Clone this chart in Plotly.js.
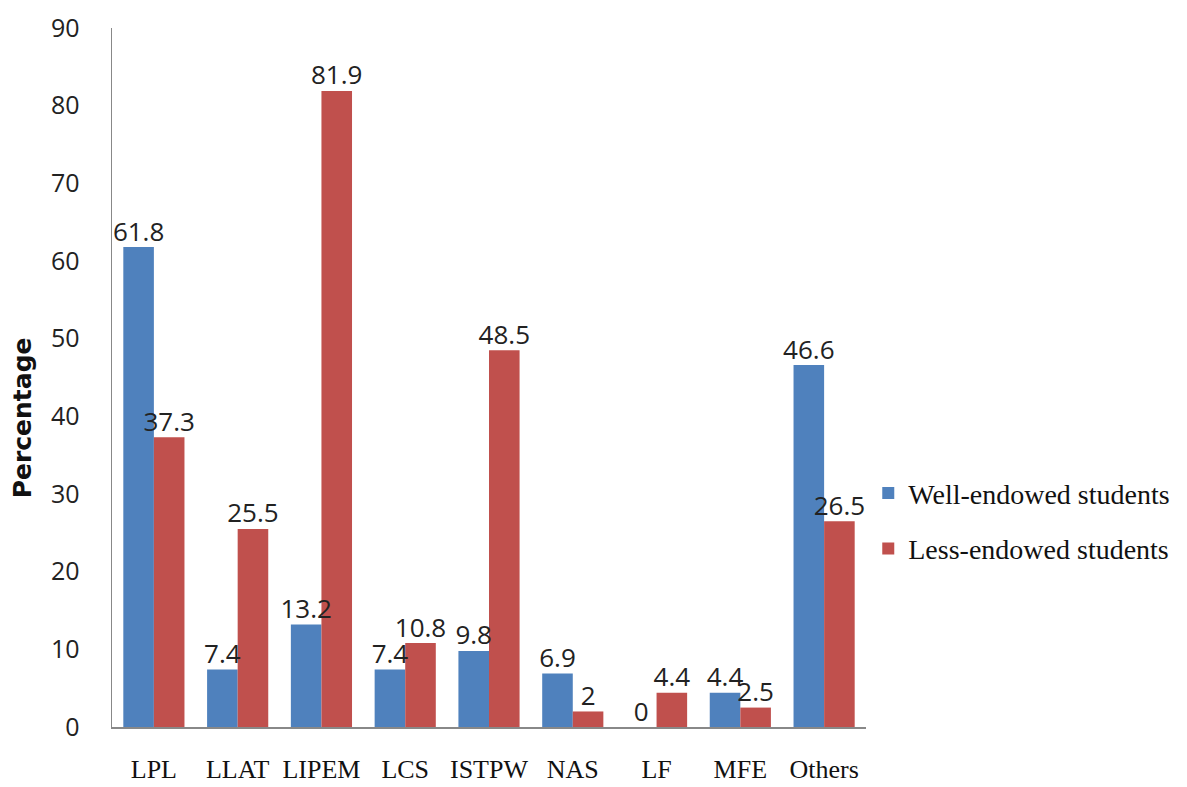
<!DOCTYPE html>
<html>
<head>
<meta charset="utf-8">
<script src="https://cdn.plot.ly/plotly-3.0.1.min.js"></script>
<style>html,body{margin:0;padding:0;background:#fff;}#chart{width:1187px;height:787px;}</style>
</head>
<body>
<div id="chart"></div>
<script>
var categories = ["LPL", "LLAT", "LIPEM", "LCS", "ISTPW", "NAS", "LF", "MFE", "Others"];
var wellEndowed = [61.8, 7.4, 13.2, 7.4, 9.8, 6.9, 0, 4.4, 46.6];
var lessEndowed = [37.3, 25.5, 81.9, 10.8, 48.5, 2, 4.4, 2.5, 26.5];
var seriesNames = ["Well-endowed students", "Less-endowed students"];
var yTicks = [0, 10, 20, 30, 40, 50, 60, 70, 80, 90];

var labelFont = {family: "Open Sans, sans-serif", size: 26, color: "#222"};
var GAP = 0.27;

var traces = [
  {
    type: "bar", name: seriesNames[0], x: categories, y: wellEndowed,
    marker: {color: "#4F81BD"}, offsetgroup: "w", legendgroup: "a"
  },
  {
    type: "bar", name: seriesNames[1], x: categories, y: lessEndowed,
    marker: {color: "#C0504D"}, offsetgroup: "l", legendgroup: "b"
  },
  {
    type: "scatter", mode: "text", x: categories, y: wellEndowed,
    text: wellEndowed.map(String), textposition: "top center", textfont: labelFont,
    offsetgroup: "w", showlegend: false, cliponaxis: false, hoverinfo: "skip"
  },
  {
    type: "scatter", mode: "text", x: categories, y: lessEndowed,
    text: lessEndowed.map(String), textposition: "top center", textfont: labelFont,
    offsetgroup: "l", showlegend: false, cliponaxis: false, hoverinfo: "skip"
  }
];

var layout = {
  width: 1187, height: 787,
  margin: {l: 112, r: 319, t: 28, b: 60},
  paper_bgcolor: "#fff", plot_bgcolor: "#fff",
  barmode: "group", bargap: GAP, bargroupgap: 0,
  scattermode: "group", scattergap: GAP,
  showlegend: true,
  legend: {
    x: 1.003, xanchor: "left", y: 0.37, yanchor: "top",
    font: {family: "Liberation Serif, Times New Roman, serif", size: 28, color: "#111"},
    traceorder: "grouped", tracegroupgap: 16, itemwidth: 30
  },
  xaxis: {
    type: "category",
    showline: true, linecolor: "#888", linewidth: 1.5,
    ticks: "", showgrid: false, zeroline: false,
    tickfont: {family: "Liberation Serif, Times New Roman, serif", size: 26, color: "#111"},
    ticklabelstandoff: 18
  },
  yaxis: {
    range: [0, 90], tickvals: yTicks, ticktext: yTicks.map(String),
    showline: true, linecolor: "#888", linewidth: 1.5,
    ticks: "", showgrid: false, zeroline: false,
    tickfont: {family: "Open Sans, sans-serif", size: 25, color: "#222"},
    ticklabelstandoff: 26
  },
  annotations: [{
    text: "<b>Percentage</b>", xref: "paper", yref: "paper",
    x: -0.119, y: 0.442, xanchor: "center", yanchor: "middle",
    textangle: -90, showarrow: false,
    font: {family: "DejaVu Sans, sans-serif", size: 25, color: "#111"}
  }]
};

Plotly.newPlot("chart", traces, layout, {displayModeBar: false, staticPlot: true});
</script>
</body>
</html>
